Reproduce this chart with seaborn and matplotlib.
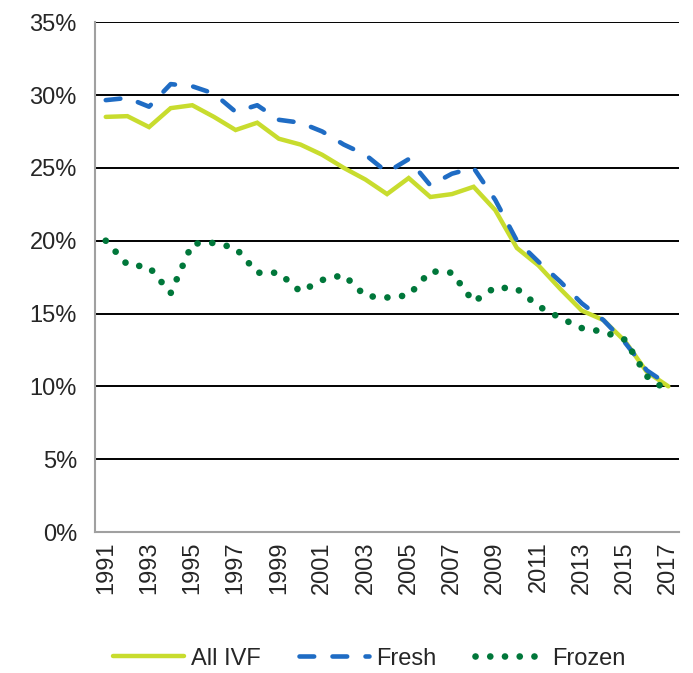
import pandas as pd
import seaborn as sns
import matplotlib.pyplot as plt
from matplotlib.ticker import PercentFormatter

# Values (percent)
years = list(range(1991, 2018))
all_ivf = [28.5, 28.55, 27.8, 29.1, 29.3, 28.5, 27.6, 28.1, 27.0, 26.6, 25.9, 25.0, 24.2, 23.2,
           24.3, 23.0, 23.2, 23.7, 22.1, 19.5, 18.3, 16.7, 15.2, 14.55, 13.1, 11.0, 10.0]
fresh = [29.65, 29.8, 29.2, 30.75, 30.6, 30.1, 28.85, 29.3, 28.3, 28.1, 27.5, 26.6, 25.9, 24.7,
         25.6, 23.8, 24.6, 25.0, 22.8, 20.0, 18.55, 17.2, 15.7, 14.55, 13.0, 11.1, 10.1]
frozen = [20.0, 18.35, 18.2, 16.4, 19.8, 19.85, 19.5, 17.8, 17.8, 16.5, 17.3, 17.65, 16.2, 16.1,
          16.25, 17.9, 17.8, 15.8, 16.8, 16.7, 15.5, 14.7, 14.0, 13.75, 13.2, 10.7, 9.65]

df = pd.DataFrame({'Year': years, 'All IVF': all_ivf, 'Fresh': fresh, 'Frozen': frozen})
long_df = df.melt(id_vars='Year', var_name='Type', value_name='Rate')

sns.set_style('white')
plt.rcParams['font.family'] = ['Liberation Sans', 'DejaVu Sans']

fig = plt.figure(figsize=(6.93, 6.73), dpi=100)
ax = fig.add_axes([0.137, 0.2095, 0.843, 0.7575])

palette = {'All IVF': '#c8dc2e', 'Fresh': '#1f6cc4', 'Frozen': '#00773a'}
sns.lineplot(data=long_df, x='Year', y='Rate', hue='Type', palette=palette, ax=ax, legend=False)

styles = {
    'All IVF': dict(lw=3.2, ls='-'),
    'Fresh': dict(lw=3.3, ls=(0, (3.2, 4.0))),
    'Frozen': dict(lw=4.8, ls=(0, (0.01, 2.2))),
}
for line, name in zip(ax.get_lines(), ['All IVF', 'Fresh', 'Frozen']):
    line.set_linewidth(styles[name]['lw'])
    line.set_linestyle(styles[name]['ls'])
    line.set_dash_capstyle('round')
    line.set_solid_joinstyle('miter')
    line.set_label(name)

ax.set_xlim(1990.5, 2017.5)
ax.set_ylim(0, 35)
ax.set_xticks(years[::2])
ax.set_xticklabels([str(y) for y in years[::2]], rotation=90)
ax.set_yticks(range(0, 40, 5))
ax.yaxis.set_major_formatter(PercentFormatter(decimals=0))
ax.tick_params(axis='both', labelsize=17, length=0)
ax.tick_params(axis='y', pad=13)
ax.tick_params(axis='x', pad=7)
ax.set_xlabel('')
ax.set_ylabel('')

ax.yaxis.grid(True, color='black', lw=1.4)
ax.set_axisbelow(True)
for s in ['top', 'right']:
    ax.spines[s].set_visible(False)
for s in ['left', 'bottom']:
    ax.spines[s].set_color('#a0a0a0')
    ax.spines[s].set_linewidth(1.5)

ax.legend(loc='upper center', bbox_to_anchor=(0.47, -0.185), ncol=3, frameon=False,
          fontsize=17, handlelength=3.0, columnspacing=1.6, handletextpad=0.3)

fig.savefig('out.png', dpi=100)
